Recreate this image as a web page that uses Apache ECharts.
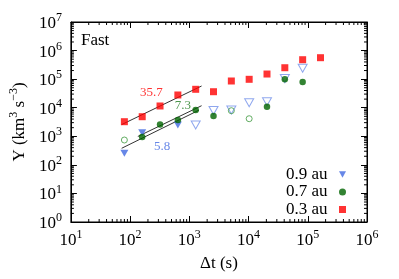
<!DOCTYPE html>
<html>
<head>
<meta charset="utf-8">
<script src="https://cdn.jsdelivr.net/npm/echarts@6/dist/echarts.min.js"></script>
<style>html,body{margin:0;padding:0;background:#fff}#c{width:399px;height:279px}</style>
</head>
<body>
<div id="c"></div>
<script>
// ---- data ----
const dt = [80, 160, 320, 640, 1280, 2560, 5120, 10240, 20480, 40960, 81920, 163840];

// 0.3 au (red squares, all filled)
const y03 = [3240, 4840, 11500, 27900, 44100, 36300, 86100, 98700, 151000, 251000, 479000, 563000];

// 0.7 au (green circles): filled / open, null = not shown
const y07Filled = [null, 950, 2600, 3715, 8300, 5130, null, null, 10800, 98600, 79400, null];
const y07Open   = [741, null, null, null, null, null, 7860, 4120, null, null, null, null];

// 0.9 au (blue down-triangles): filled / open
const y09Filled = [254, 1330, null, 2500, null, null, null, null, null, null, null, null];
const y09Open   = [null, null, null, null, 2480, 7940, 8300, 14970, 16200, 104700, 240000, null];

// fitted lines (endpoints)
const fit03 = [[72, 2570], [1610, 57500]];
const fit07 = [[135, 985], [1610, 11750]];
const fit09 = [[72, 380], [1450, 8200]];

const fitLabels = ['35.7', '7.3', '5.8'];
const seriesNames = ['0.9 au', '0.7 au', '0.3 au'];

// axis ranges
const X_MIN = 10, X_MAX = 1e6, Y_MIN = 1, Y_MAX = 1e7;

// ---- build ----
function pairs(vals) {
  const out = [];
  vals.forEach((v, i) => { if (v != null) out.push([dt[i], v]); });
  return out;
}
const FONT = '"Liberation Serif", "DejaVu Serif", serif';
const BLUE = '#4169e1', BLUE_OPEN = '#7391ea';
const GREEN = '#006400', GREEN_OPEN = '#3f9a3f';
const RED = '#ff0000';
const DOWN_TRI = 'path://M0,0L10,0L5,9Z';

const supLabel = v => '{b|10}{s|' + Math.round(Math.log10(v)) + '}';
const richTick = {
  b: { fontFamily: FONT, fontSize: 17, color: '#000', verticalAlign: 'bottom', lineHeight: 20 },
  s: { fontFamily: FONT, fontSize: 12, color: '#000', verticalAlign: 'top', lineHeight: 12 }
};

const minorX = [], minorY = [];
for (let k = 1; k < 6; k++) for (let m = 2; m <= 9; m++) minorX.push(m * Math.pow(10, k));
for (let k = 0; k < 7; k++) for (let m = 2; m <= 9; m++) minorY.push(m * Math.pow(10, k));

function tickSeries(values, isX) {
  return {
    type: 'custom', silent: true, clip: false, z: 1,
    data: values.map(v => isX ? [v, Y_MIN] : [X_MIN, v]),
    renderItem: (params, api) => {
      const v = api.value(isX ? 0 : 1);
      const L = 3;
      let a, b;
      if (isX) { a = api.coord([v, Y_MIN]); b = api.coord([v, Y_MAX]); }
      else { a = api.coord([X_MIN, v]); b = api.coord([X_MAX, v]); }
      const st = { stroke: '#000', lineWidth: 1 };
      return { type: 'group', children: isX ? [
        { type: 'line', shape: { x1: a[0], y1: a[1], x2: a[0], y2: a[1] - L }, style: st },
        { type: 'line', shape: { x1: b[0], y1: b[1], x2: b[0], y2: b[1] + L }, style: st }
      ] : [
        { type: 'line', shape: { x1: a[0], y1: a[1], x2: a[0] + L, y2: a[1] }, style: st },
        { type: 'line', shape: { x1: b[0], y1: b[1], x2: b[0] - L, y2: b[1] }, style: st }
      ]};
    }
  };
}

function fitLine(d) {
  return { type: 'line', data: d, symbol: 'none', silent: true, z: 2,
    lineStyle: { color: '#333', width: 1 } };
}
function annot(pos, text, color) {
  return { type: 'scatter', silent: true, symbolSize: 0, z: 5,
    data: [{ value: pos, label: { show: true, formatter: text, position: 'inside',
      color: color, fontFamily: FONT, fontSize: 13 } }] };
}

const chart = echarts.init(document.getElementById('c'), null, { renderer: 'canvas' });
chart.setOption({
  animation: false,
  backgroundColor: '#fff',
  title: { text: 'Fast', left: 81, top: 32, padding: 0,
    textStyle: { fontFamily: FONT, fontSize: 17, fontWeight: 'normal', color: '#000' } },
  grid: { left: 65, top: 22, right: 32, bottom: 57, show: true, borderColor: '#000', borderWidth: 1 },
  legend: {
    data: [
      { name: seriesNames[0], icon: DOWN_TRI },
      { name: seriesNames[1], icon: 'circle' },
      { name: seriesNames[2], icon: 'rect' }
    ],
    orient: 'vertical', right: 53, top: 166, padding: 0,
    align: 'right', itemWidth: 7, itemHeight: 7, itemGap: 0.5,
    textStyle: { fontFamily: FONT, fontSize: 17, color: '#000', lineHeight: 17, padding: [0, 6.5, 0, 0] }
  },
  xAxis: [{
    type: 'log', logBase: 10, min: X_MIN, max: X_MAX,
    name: 'Δt (s)', nameLocation: 'middle', nameGap: 33,
    nameTextStyle: { fontFamily: FONT, fontSize: 17, color: '#000' },
    axisLine: { lineStyle: { color: '#000' } },
    axisTick: { inside: true, length: 6, lineStyle: { color: '#000' } },
    splitLine: { show: false },
    axisLabel: { margin: 7, formatter: supLabel, rich: richTick }
  }, {
    type: 'log', logBase: 10, min: X_MIN, max: X_MAX, position: 'top',
    axisLine: { lineStyle: { color: '#000' } },
    axisTick: { inside: true, length: 6, lineStyle: { color: '#000' } },
    splitLine: { show: false }, axisLabel: { show: false }
  }],
  yAxis: [{
    type: 'log', logBase: 10, min: Y_MIN, max: Y_MAX,
    name: '{n|Y (km}{s|3}{n| s}{s|−3}{n|)}', nameLocation: 'middle', nameRotate: 90, nameGap: 37,
    nameTextStyle: { rich: {
      n: { fontFamily: FONT, fontSize: 17, color: '#000', verticalAlign: 'bottom', lineHeight: 20 },
      s: { fontFamily: FONT, fontSize: 12, color: '#000', verticalAlign: 'top', lineHeight: 12 } } },
    axisLine: { lineStyle: { color: '#000' } },
    axisTick: { inside: true, length: 6, lineStyle: { color: '#000' } },
    splitLine: { show: false },
    axisLabel: { margin: 9, formatter: supLabel, rich: richTick }
  }, {
    type: 'log', logBase: 10, min: Y_MIN, max: Y_MAX, position: 'right',
    axisLine: { lineStyle: { color: '#000' } },
    axisTick: { inside: true, length: 6, lineStyle: { color: '#000' } },
    splitLine: { show: false }, axisLabel: { show: false }
  }],
  series: [
    tickSeries(minorX, true),
    tickSeries(minorY, false),
    fitLine(fit03), fitLine(fit07), fitLine(fit09),
    { name: '0.9 au', type: 'scatter', data: pairs(y09Filled), symbol: DOWN_TRI,
      symbolSize: [8, 7], itemStyle: { color: BLUE }, z: 3 },
    { name: '0.9 au open', type: 'scatter', data: pairs(y09Open), symbol: DOWN_TRI,
      symbolSize: [9, 8], itemStyle: { color: 'rgba(0,0,0,0)', borderColor: BLUE_OPEN, borderWidth: 1 }, z: 3 },
    { name: '0.7 au', type: 'scatter', data: pairs(y07Filled), symbol: 'circle',
      symbolSize: 6.5, itemStyle: { color: GREEN }, z: 4 },
    { name: '0.7 au open', type: 'scatter', data: pairs(y07Open), symbol: 'circle',
      symbolSize: 6, itemStyle: { color: 'rgba(0,0,0,0)', borderColor: GREEN_OPEN, borderWidth: 1 }, z: 4 },
    { name: '0.3 au', type: 'scatter', data: pairs(y03), symbol: 'rect',
      symbolSize: 7, itemStyle: { color: RED }, z: 4 },
    annot([228, 34600], fitLabels[0], RED),
    annot([780, 11750], fitLabels[1], '#1f7a1f'),
    annot([347, 431], fitLabels[2], BLUE)
  ]
});
</script>
</body>
</html>
